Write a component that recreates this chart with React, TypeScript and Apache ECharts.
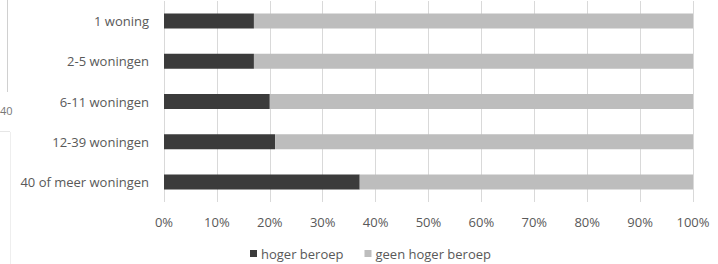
import React, { useEffect, useRef } from "react";
import * as echarts from "echarts";

const categories = ["1 woning", "2-5 woningen", "6-11 woningen", "12-39 woningen", "40 of meer woningen"];
const hogerBeroep = [17, 17, 20, 21, 37];
const geenHogerBeroep = [83, 83, 80, 79, 63];
const seriesNames = ["hoger beroep", "geen hoger beroep"];

const FONT = "'Open Sans', sans-serif";
const TEXT = "#595959";
const FS = 13;

export default function App() {
  const ref = useRef<HTMLDivElement>(null);
  useEffect(() => {
    const chart = echarts.init(ref.current!, undefined, { renderer: "svg" });
    chart.setOption({
      animation: false,
      textStyle: { fontFamily: FONT },
      grid: { left: 164, right: 25, top: 1, height: 201, containLabel: false },
      legend: {
        data: seriesNames,
        left: 250,
        top: 247,
        padding: 0,
        itemWidth: 7,
        itemHeight: 7,
        itemGap: 21,
        icon: "rect",
        textStyle: { color: TEXT, fontSize: FS, fontFamily: FONT, padding: [0, 0, 0, -1] },
      },
      xAxis: {
        type: "value",
        min: 0,
        max: 100,
        interval: 10,
        axisLabel: { formatter: "{value}%", color: TEXT, fontSize: FS, fontFamily: FONT, margin: 13 },
        axisLine: { show: false },
        axisTick: { show: false },
        splitLine: { lineStyle: { color: "#d9d9d9", width: 1 } },
      },
      yAxis: {
        type: "category",
        data: categories,
        inverse: true,
        axisLine: { show: false },
        axisTick: { show: false },
        axisLabel: { color: TEXT, fontSize: FS, fontFamily: FONT, margin: 15 },
      },
      series: [
        {
          name: seriesNames[0],
          type: "bar",
          stack: "total",
          data: hogerBeroep,
          barWidth: 15,
          itemStyle: { color: "#3b3b3b" },
        },
        {
          name: seriesNames[1],
          type: "bar",
          stack: "total",
          data: geenHogerBeroep,
          barWidth: 15,
          itemStyle: { color: "#bdbdbd" },
        },
      ],
      graphic: [
        { type: "line", shape: { x1: 7.5, y1: 0, x2: 7.5, y2: 92 }, style: { stroke: "#d0d0d0", lineWidth: 1 } },
        { type: "line", shape: { x1: 0, y1: 131.5, x2: 10, y2: 131.5 }, style: { stroke: "#e6e6e6", lineWidth: 1 } },
        { type: "line", shape: { x1: 10.5, y1: 132, x2: 10.5, y2: 264 }, style: { stroke: "#eeeeee", lineWidth: 1 } },
        { type: "text", x: 0, y: 105, style: { text: "40", fill: "#777", fontSize: 11, fontFamily: FONT } },
      ],
    });
    return () => chart.dispose();
  }, []);
  return <div ref={ref} style={{ width: 718, height: 264, position: "absolute", left: 0, top: 0, background: "#fff" }} />;
}
